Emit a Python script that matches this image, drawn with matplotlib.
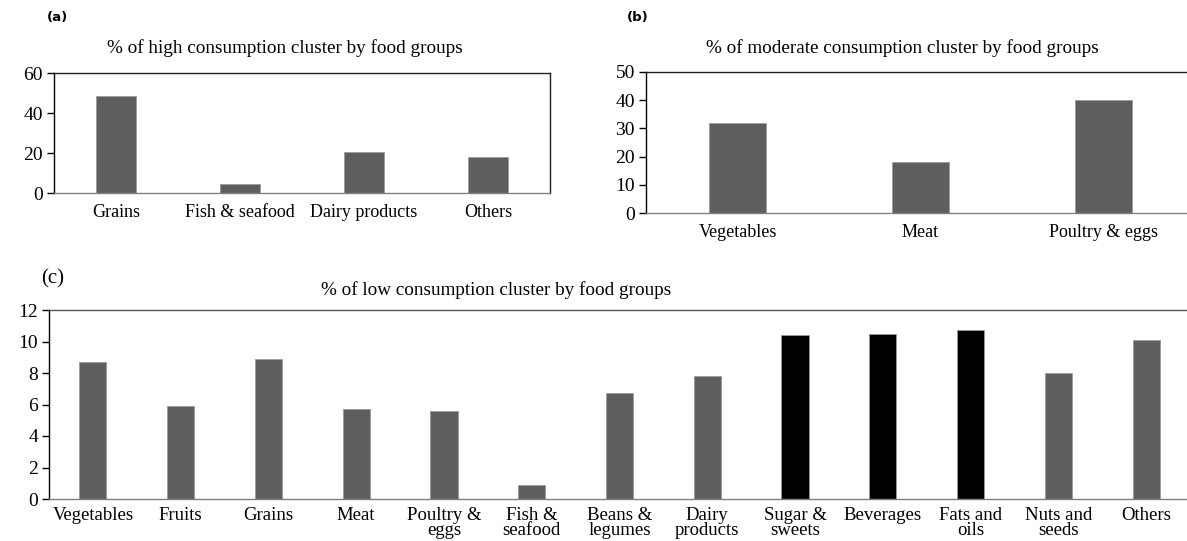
import numpy as np
import matplotlib.pyplot as plt

plt.rcParams['font.family'] = ['Liberation Serif', 'DejaVu Serif']

# (a) high consumption cluster
cats_a = ['Grains', 'Fish & seafood', 'Dairy products', 'Others']
vals_a = [48.5, 4.5, 20.5, 18.0]

# (b) moderate consumption cluster
cats_b = ['Vegetables', 'Meat', 'Poultry & eggs']
vals_b = [31.8, 18.2, 40.0]

# (c) low consumption cluster
cats_c = ['Vegetables', 'Fruits', 'Grains', 'Meat', 'Poultry &\neggs', 'Fish &\nseafood',
          'Beans &\nlegumes', 'Dairy\nproducts', 'Sugar &\nsweets', 'Beverages',
          'Fats and\noils', 'Nuts and\nseeds', 'Others']
vals_c = [8.7, 5.9, 8.9, 5.7, 5.6, 0.9, 6.7, 7.8, 10.4, 10.5, 10.7, 8.0, 10.1]
highlight_c = ['Sugar &\nsweets', 'Beverages', 'Fats and\noils']

W, H = 1187, 541
fig = plt.figure(figsize=(W / 100, H / 100), dpi=100)

GRAY = '#5e5e5e'


def px_axes(x0, y0, x1, y1):
    # pixel box (top-left origin) -> figure axes
    return fig.add_axes([x0 / W, 1 - y1 / H, (x1 - x0) / W, (y1 - y0) / H])


def px_text(x, y, s, **kw):
    fig.text(x / W, 1 - y / H, s, va='center', **kw)


def style(ax, ylim, step, right_spine):
    ax.set_ylim(*ylim)
    ax.set_yticks(np.arange(ylim[0], ylim[1] + 0.1, step))
    ax.tick_params(axis='y', direction='out', length=5, width=1, labelsize=14, pad=3)
    ax.tick_params(axis='x', length=0, pad=8)
    ax.spines['left'].set_color('black')
    ax.spines['top'].set_color('#222222')
    ax.spines['bottom'].set_color('#808080')
    ax.spines['right'].set_visible(right_spine)
    ax.spines['right'].set_color('#222222')
    for s in ax.spines.values():
        s.set_linewidth(1.0)


# panel (a)
ax_a = px_axes(54, 73, 550, 193)
xa = np.arange(len(cats_a))
ax_a.bar(xa, vals_a, width=0.33, color=GRAY, edgecolor='#9a9a9a', linewidth=0.6)
ax_a.set_xlim(-0.5, len(cats_a) - 0.5)
ax_a.set_xticks(xa)
ax_a.set_xticklabels(cats_a, fontsize=13)
style(ax_a, (0, 60), 20, True)
px_text(285, 48, '% of high consumption cluster by food groups', fontsize=13.8, ha='center')
px_text(47, 17, '(a)', fontsize=9.5, fontweight='bold', family=['DejaVu Sans'])

# panel (b)
ax_b = px_axes(646, 72, 1195, 213)
xb = np.arange(len(cats_b))
ax_b.bar(xb, vals_b, width=0.31, color=GRAY, edgecolor='#9a9a9a', linewidth=0.6)
ax_b.set_xlim(-0.5, len(cats_b) - 0.5)
ax_b.set_xticks(xb)
ax_b.set_xticklabels(cats_b, fontsize=13)
style(ax_b, (0, 50), 10, False)
px_text(902, 48, '% of moderate consumption cluster by food groups', fontsize=13.8, ha='center')
px_text(627, 17, '(b)', fontsize=9.5, fontweight='bold', family=['DejaVu Sans'])

# panel (c)
ax_c = px_axes(49, 310, 1190, 499)
xc = np.arange(len(cats_c))
colors_c = ['black' if c in highlight_c else GRAY for c in cats_c]
ax_c.bar(xc, vals_c, width=0.31, color=colors_c, edgecolor='#9a9a9a', linewidth=0.6)
ax_c.set_xlim(-0.5, len(cats_c) - 0.5)
ax_c.set_xticks(xc)
ax_c.set_xticklabels(cats_c, fontsize=13.5, linespacing=0.85, va='top')
style(ax_c, (0, 12), 2, False)
ax_c.tick_params(axis='x', pad=6)
ax_c.spines['top'].set_color('#555555')
px_text(496, 290, '% of low consumption cluster by food groups', fontsize=13.8, ha='center')
px_text(41, 279, '(c)', fontsize=15)

fig.savefig('out.png', dpi=100)
